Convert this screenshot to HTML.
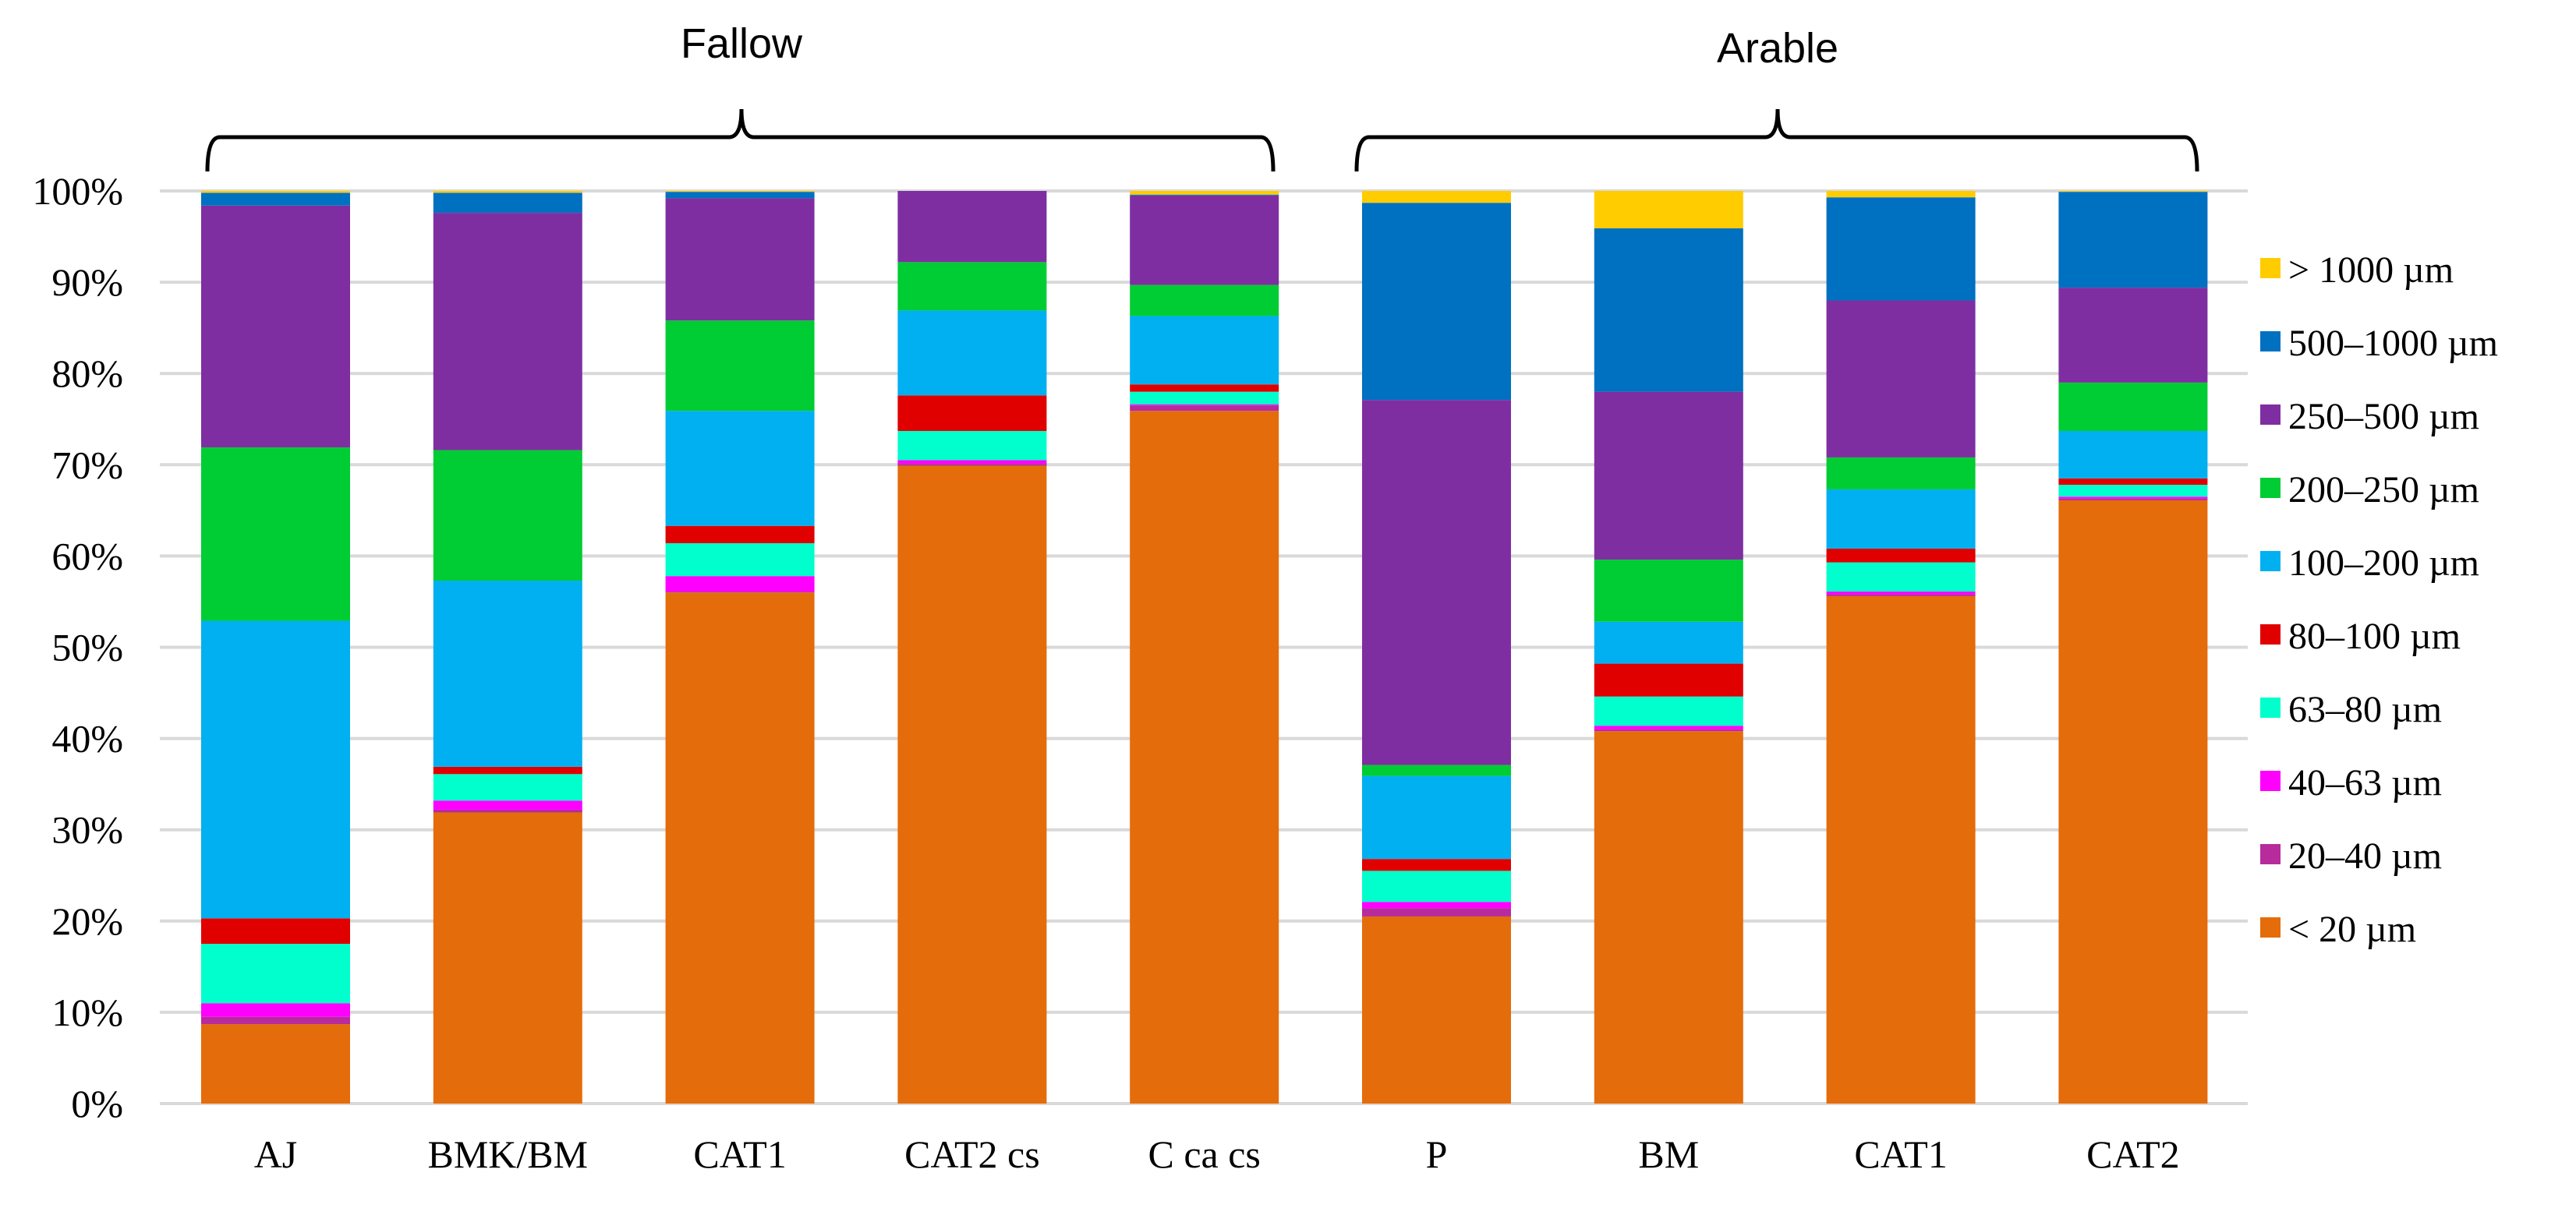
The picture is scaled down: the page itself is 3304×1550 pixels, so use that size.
<!DOCTYPE html>
<html><head><meta charset="utf-8"><style>
html,body{margin:0;padding:0;background:#fff;}
svg{display:block;font-family:"Liberation Serif",serif;}
</style></head><body>
<svg id="chart" width="3304" height="1550" viewBox="0 0 3304 1550" xmlns="http://www.w3.org/2000/svg">
<g id="grid"></g>
<g id="yticks"></g>
<g id="bars"></g>
<g id="xticks"></g>
<g id="legend"></g>
<g fill="none" stroke="#000" stroke-width="5">
<path d="M266 220 Q266 176 282 176 L935 176 Q951 176 951 140 Q951 176 967 176 L1617 176 Q1633 176 1633 220"/>
<path d="M1740 220 Q1740 176 1756 176 L2264 176 Q2280 176 2280 140 Q2280 176 2296 176 L2802 176 Q2818 176 2818 220"/>
</g>
<text x="951" y="74" font-size="54" text-anchor="middle" font-family="Liberation Sans, sans-serif">Fallow</text>
<text x="2280" y="80" font-size="54" text-anchor="middle" font-family="Liberation Sans, sans-serif">Arable</text>
</svg>
<script>
const categories = ["AJ","BMK/BM","CAT1","CAT2 cs","C ca cs","P","BM","CAT1","CAT2"];
const seriesNames = ["< 20 µm","20–40 µm","40–63 µm","63–80 µm","80–100 µm","100–200 µm","200–250 µm","250–500 µm","500–1000  µm","> 1000 µm"];
const lt20     = [8.7,31.9,56.0,69.9,75.9,20.5,40.8,55.6,66.1];
const s20_40   = [0.8,0.3,0.1,0.2,0.6,0.9,0.2,0.2,0.2];
const s40_63   = [1.5,1.0,1.7,0.4,0.1,0.7,0.4,0.3,0.2];
const s63_80   = [6.5,2.9,3.6,3.2,1.4,3.4,3.2,3.2,1.3];
const s80_100  = [2.8,0.8,1.9,3.9,0.8,1.3,3.6,1.5,0.7];
const s100_200 = [32.6,20.4,12.6,9.3,7.5,9.1,4.6,6.5,5.2];
const s200_250 = [19.0,14.3,9.9,5.3,3.4,1.2,6.8,3.5,5.3];
const s250_500 = [26.5,26.0,13.4,7.8,9.8,40.0,18.4,17.2,10.4];
const s500_1000= [1.4,2.2,0.7,0.0,0.1,21.6,17.9,11.3,10.5];
const gt1000   = [0.2,0.2,0.1,0.0,0.4,1.3,4.1,0.7,0.1];
const yTicks = [0,10,20,30,40,50,60,70,80,90,100];

const series = [lt20,s20_40,s40_63,s63_80,s80_100,s100_200,s200_250,s250_500,s500_1000,gt1000];
const colors = ["#E46C0A","#B72B9C","#FF00FF","#00FFCC","#E00000","#00B0F0","#00CC33","#7F2EA2","#0070C0","#FFCC00"];
const NS="http://www.w3.org/2000/svg";
const y0=1416, y100=245, xLeft=205, xRight=2883, x0=353.5, step=297.8, bw=191;
const yS=v=>y0-(y0-y100)*v/100;
const xC=i=>x0+step*i;
function mk(tag,attrs,parent){const e=document.createElementNS(NS,tag);for(const k in attrs)e.setAttribute(k,attrs[k]);parent.appendChild(e);return e;}
const grid=document.getElementById('grid'),yt=document.getElementById('yticks'),bars=document.getElementById('bars'),xt=document.getElementById('xticks'),lg=document.getElementById('legend');
yTicks.forEach(t=>{
  const l=mk('line',{x1:xLeft,x2:xRight,y1:yS(t),y2:yS(t),stroke:'#d9d9d9','stroke-width':4},grid);
  
  
  const tx=mk('text',{x:158,y:yS(t)+17,'font-size':50,'text-anchor':'end'},yt);
  tx.textContent=t+'%';
  
  
});
categories.forEach((c,i)=>{
  let cum=0;
  series.forEach((s,k)=>{
    const v=s[i]; if(v<=0){return;}
    const r=mk('rect',{x:xC(i)-bw/2,y:yS(cum+v),width:bw,height:yS(cum)-yS(cum+v),fill:colors[k]},bars);
    
    
    cum+=v;
  });
  const tx=mk('text',{x:xC(i),y:1498,'font-size':50,'text-anchor':'middle'},xt);
  tx.textContent=c;
  
  
});
for(let k=seriesNames.length-1;k>=0;k--){
  const j=seriesNames.length-1-k;
  const cy=345+j*94;
  const r=mk('rect',{x:2899,y:cy-14,width:26,height:26,fill:colors[k]},lg);
  
  
  const tx=mk('text',{x:2935,y:cy+17,'font-size':48},lg);
  tx.textContent=seriesNames[k];
  
  
}
</script>
</body></html>
